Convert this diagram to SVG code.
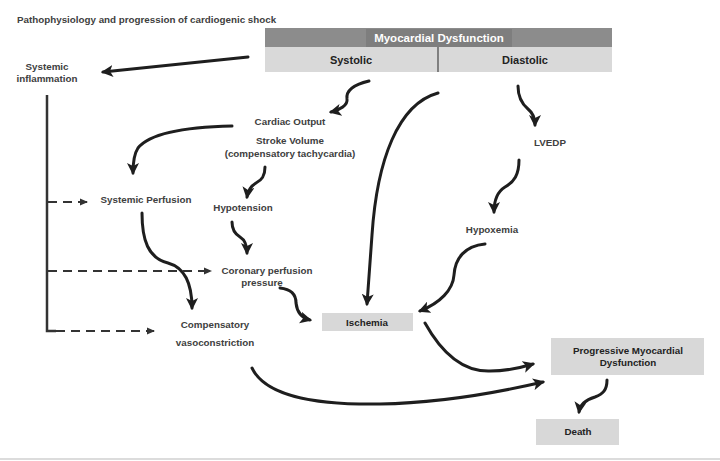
<svg xmlns="http://www.w3.org/2000/svg" width="720" height="461" viewBox="0 0 720 461">
<defs>
<style>
text{font-family:"Liberation Sans",Arial,sans-serif;font-weight:bold;fill:#404040;font-size:9.8px}
.c{text-anchor:middle}
.hd{font-size:11px;fill:#222}
.wh{font-size:11.5px;fill:#fff}
.dk{fill:#222}
.conn path{fill:none;stroke:#1e1e1e;stroke-width:3;stroke-linecap:round}
.conn .d{stroke:#333;stroke-width:2;stroke-dasharray:9 6;stroke-linecap:butt}
.conn .v{stroke:#333;stroke-width:2.5;stroke-linecap:butt}
.box{fill:#d8d8d8}
</style>
<marker id="ah" markerUnits="userSpaceOnUse" viewBox="0 0 12 12" markerWidth="12" markerHeight="12" refX="10" refY="6" orient="auto">
<path d="M0,0 L12,6 L0,12 L3,6 z" fill="#1e1e1e"/>
</marker>
<marker id="ad" markerUnits="userSpaceOnUse" viewBox="0 0 8 8" markerWidth="8" markerHeight="8" refX="7" refY="4" orient="auto">
<path d="M0,0.5 L8,4 L0,7.5 z" fill="#333"/>
</marker>
</defs>
<rect width="720" height="461" fill="#fff"/>
<line x1="0" y1="459" x2="720" y2="459" stroke="#dcdcdc" stroke-width="2"/>
<text x="17" y="23">Pathophysiology and progression of cardiogenic shock</text>

<g id="myocardial-dysfunction">
<rect x="265" y="28" width="347" height="19" fill="#8c8c8c"/>
<rect x="366" y="29" width="146" height="18" fill="#7e7e7e"/>
<text class="c wh" x="439" y="42">Myocardial Dysfunction</text>
<rect x="265" y="47" width="347" height="25" fill="#d9d9d9"/>
<line x1="438" y1="47" x2="438" y2="72" stroke="#444" stroke-width="1.2"/>
</g>
<g id="systolic"><text class="c hd" x="351" y="64">Systolic</text></g>
<g id="diastolic"><text class="c hd" x="525" y="64">Diastolic</text></g>

<g id="systemic-inflammation">
<text class="c" x="47" y="70">Systemic</text>
<text class="c" x="47" y="82">inflammation</text>
</g>
<g id="cardiac-output"><text class="c" x="290" y="125">Cardiac Output</text></g>
<g id="stroke-volume">
<text class="c" x="290" y="144">Stroke Volume</text>
<text class="c" x="290" y="157">(compensatory tachycardia)</text>
</g>
<g id="systemic-perfusion"><text class="c" x="146" y="203">Systemic Perfusion</text></g>
<g id="hypotension"><text class="c" x="243" y="211">Hypotension</text></g>
<g id="coronary-perfusion">
<text class="c" x="267" y="274">Coronary perfusion</text>
<text class="c" x="262" y="286">pressure</text>
</g>
<g id="compensatory-vasoconstriction">
<text class="c" x="215" y="328">Compensatory</text>
<text class="c" x="215" y="346">vasoconstriction</text>
</g>
<g id="lvedp"><text class="c" x="550" y="146">LVEDP</text></g>
<g id="hypoxemia"><text class="c" x="492" y="233">Hypoxemia</text></g>
<g id="ischemia">
<rect class="box" x="322" y="313" width="91" height="18"/>
<text class="c dk" x="367" y="326">Ischemia</text>
</g>
<g id="progressive-myocardial-dysfunction">
<rect class="box" x="551" y="338" width="153" height="37"/>
<text class="c dk" x="628" y="354">Progressive Myocardial</text>
<text class="c dk" x="628" y="366">Dysfunction</text>
</g>
<g id="death">
<rect class="box" x="536" y="419" width="83" height="26"/>
<text class="c dk" x="578" y="435">Death</text>
</g>

<g id="connectors" class="conn">
<path d="M248,57 L103,72" marker-end="url(#ah)"/>
<path d="M369,81 C352,85 346,92 347,99 C348,105 340,110 331,112" marker-end="url(#ah)"/>
<path d="M232,126 C185,127 150,133 138,148 C134,154 133,162 133,173" marker-end="url(#ah)"/>
<path d="M265,167 C265,176 262,180 256,183 C251,186 248,190 247,197" marker-end="url(#ah)"/>
<path d="M232,222 C232,230 235,234 240,237 C245,240 247,246 247,253" marker-end="url(#ah)"/>
<path d="M142,213 C142,240 148,258 168,263 C186,268 192,285 192,308" marker-end="url(#ah)"/>
<path d="M280,288 C290,289 296,294 296,303 C297,312 302,318 310,320" marker-end="url(#ah)"/>
<path d="M438,93 C398,104 377,160 372,235 L367,304" marker-end="url(#ah)"/>
<path d="M518,86 C518,96 522,104 528,109 C533,113 535,118 535,125" marker-end="url(#ah)"/>
<path d="M519,160 C519,175 514,182 505,187 C497,192 494,200 494,212" marker-end="url(#ah)"/>
<path d="M485,244 C465,246 455,258 454,275 C453,290 440,303 420,311" marker-end="url(#ah)"/>
<path d="M425,323 C440,350 460,372 490,371 C505,371 520,368 533,364" marker-end="url(#ah)"/>
<path d="M252,368 C265,395 310,405 380,404 C440,403 500,392 543,382" marker-end="url(#ah)"/>
<path d="M607,380 C607,390 603,394 595,397 C585,400 580,405 579,412" marker-end="url(#ah)"/>
<path class="v" d="M47,95 L47,331 L56,331"/>
<path class="d" d="M48,202 L87,202" marker-end="url(#ad)"/>
<path class="d" d="M48,271 L211,271" marker-end="url(#ad)"/>
<path class="d" d="M56,331 L154,331" marker-end="url(#ad)"/>
</g>
</svg>
